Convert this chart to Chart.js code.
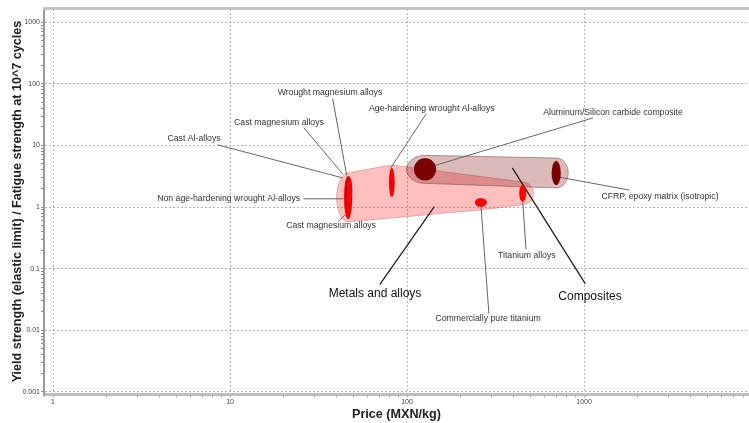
<!DOCTYPE html>
<html>
<head>
<meta charset="utf-8">
<script src="https://cdn.jsdelivr.net/npm/chart.js@4.4.1/dist/chart.umd.min.js"></script>
<style>
  html, body { margin: 0; padding: 0; background: #fff; }
  #wrap { width: 749px; height: 423px; }
</style>
</head>
<body>
<div id="wrap"><canvas id="ashby" width="749" height="423"></canvas></div>
<script>
// Material records: price range (MXN/kg) and yield/fatigue strength ratio range
const materialNames = [
  'Non age-hardening wrought Al-alloys', 'Cast Al-alloys', 'Cast magnesium alloys',
  'Wrought magnesium alloys', 'Age-hardening wrought Al-alloys', 'Titanium alloys',
  'Commercially pure titanium', 'Aluminum/Silicon carbide composite', 'CFRP, epoxy matrix (isotropic)'
];
const materialFamily = [0, 0, 0, 0, 0, 0, 0, 1, 1];
const priceLow  = [44.1, 45.0, 44.8, 45.5, 79.1, 431, 242, 109.5, 657];
const priceHigh = [48.9, 48.2, 48.6, 49.0, 85.0, 470, 282, 145.9, 738];
const ratioLow  = [0.64, 0.90, 0.80, 1.05, 1.45, 1.22, 1.01, 2.71, 2.28];
const ratioHigh = [3.20, 3.00, 2.90, 3.10, 4.30, 2.28, 1.385, 6.18, 5.59];

const familyNames = ['Metals and alloys', 'Composites'];

const xTickLabels = ['1', '10', '100', '1000'];
const yTickLabels = ['0.001', '0.01', '0.1', '1', '10', '100', '1000'];

// Callouts: label centre, leader start and leader end, all in (price, ratio)
const callouts = [
  { text: 'Wrought magnesium alloys', at: [36.7, 71.0], from: [38.0, 56.8], to: [45.6, 3.31] },
  { text: 'Cast magnesium alloys', at: [18.9, 23.1], from: [26.2, 19.2], to: [43.3, 3.44] },
  { text: 'Cast Al-alloys', at: [6.26, 12.9], from: [8.55, 10.2], to: [42.9, 2.99] },
  { text: 'Non age-hardening wrought Al-alloys', at: [9.83, 1.36], from: [26.2, 1.36], to: [43.5, 1.36] },
  { text: 'Cast magnesium alloys', at: [37.2, 0.497], from: [41.6, 0.60], to: [44.5, 0.74] },
  { text: 'Age-hardening wrought Al-alloys', at: [138, 39.1], from: [128, 32.4], to: [80.9, 4.30] },
  { text: 'Aluminum/Silicon carbide composite', at: [1458, 34.0], from: [1119, 27.9], to: [140, 4.63] },
  { text: 'CFRP, epoxy matrix (isotropic)', at: [2685, 1.47], from: [1795, 1.89], to: [731, 3.04] },
  { text: 'Titanium alloys', at: [475, 0.160], from: [470, 0.206], to: [450, 1.30] },
  { text: 'Commercially pure titanium', at: [287, 0.0153], from: [290, 0.0188], to: [262, 1.0] }
];
const familyCallouts = [
  { at: [65.9, 0.0386], from: [70.4, 0.0562], to: [142, 1.0] },
  { at: [1081, 0.0349], from: [1013, 0.0577], to: [395, 4.25] }
];

const familyFill = ['rgba(255,0,0,0.25)', 'rgba(128,0,0,0.27)'];
const familyEdge = ['rgba(170,90,90,0.35)', 'rgba(90,50,50,0.45)'];
const materialFill = ['#ff0000', '#7d0000'];

function isDecade(v) {
  const l = Math.log10(v);
  return Math.abs(l - Math.round(l)) < 1e-6;
}

function logTicks(min, max) {
  const out = [];
  for (let e = Math.floor(Math.log10(min)); e <= Math.ceil(Math.log10(max)); e++) {
    for (let m = 1; m <= 9; m++) {
      const v = m * Math.pow(10, e);
      if (v >= min && v <= max) out.push({ value: v });
    }
  }
  return out;
}

function hull(pts) {
  pts.sort((a, b) => a[0] - b[0] || a[1] - b[1]);
  const cross = (o, a, b) => (a[0] - o[0]) * (b[1] - o[1]) - (a[1] - o[1]) * (b[0] - o[0]);
  const lower = [], upper = [];
  for (const p of pts) {
    while (lower.length >= 2 && cross(lower[lower.length - 2], lower[lower.length - 1], p) <= 0) lower.pop();
    lower.push(p);
  }
  for (let i = pts.length - 1; i >= 0; i--) {
    const p = pts[i];
    while (upper.length >= 2 && cross(upper[upper.length - 2], upper[upper.length - 1], p) <= 0) upper.pop();
    upper.push(p);
  }
  upper.pop(); lower.pop();
  return lower.concat(upper);
}

function ellipseBox(x, y, i) {
  const x1 = x.getPixelForValue(priceLow[i]), x2 = x.getPixelForValue(priceHigh[i]);
  const y1 = y.getPixelForValue(ratioLow[i]), y2 = y.getPixelForValue(ratioHigh[i]);
  return { cx: (x1 + x2) / 2, cy: (y1 + y2) / 2, rx: Math.abs(x2 - x1) / 2, ry: Math.abs(y2 - y1) / 2 };
}

const ashbyPlugin = {
  id: 'ashby',
  beforeDatasetsDraw(chart) {
    const { ctx, chartArea, scales: { x, y } } = chart;
    const px = p => [x.getPixelForValue(p[0]), y.getPixelForValue(p[1])];
    ctx.save();
    ctx.beginPath();
    ctx.rect(chartArea.left, chartArea.top, chartArea.right - chartArea.left, chartArea.bottom - chartArea.top);
    ctx.clip();

    // family envelopes: hull round the padded member ellipses
    familyNames.forEach((name, f) => {
      const pts = [];
      materialNames.forEach((m, i) => {
        if (materialFamily[i] !== f) return;
        const b = ellipseBox(x, y, i);
        for (let k = 0; k < 64; k++) {
          const a = k / 64 * Math.PI * 2;
          pts.push([b.cx + (b.rx + 7.5) * Math.cos(a), b.cy + (b.ry + 3) * Math.sin(a)]);
        }
      });
      const h = hull(pts);
      ctx.beginPath();
      h.forEach((p, k) => k ? ctx.lineTo(p[0], p[1]) : ctx.moveTo(p[0], p[1]));
      ctx.closePath();
      ctx.fillStyle = familyFill[f];
      ctx.fill();
      ctx.strokeStyle = familyEdge[f];
      ctx.lineWidth = 1;
      ctx.stroke();
    });

    // leader lines
    ctx.lineCap = 'round';
    callouts.forEach(c => {
      const a = px(c.from), b = px(c.to);
      ctx.beginPath();
      ctx.moveTo(a[0], a[1]);
      ctx.lineTo(b[0], b[1]);
      ctx.strokeStyle = '#666';
      ctx.lineWidth = 1;
      ctx.stroke();
    });
    familyCallouts.forEach(c => {
      const a = px(c.from), b = px(c.to);
      ctx.beginPath();
      ctx.moveTo(a[0], a[1]);
      ctx.lineTo(b[0], b[1]);
      ctx.strokeStyle = '#222';
      ctx.lineWidth = 1.3;
      ctx.stroke();
    });

    // material ellipses
    materialNames.forEach((m, i) => {
      const b = ellipseBox(x, y, i);
      ctx.beginPath();
      ctx.ellipse(b.cx, b.cy, b.rx, b.ry, 0, 0, Math.PI * 2);
      ctx.fillStyle = materialFill[materialFamily[i]];
      ctx.fill();
      ctx.strokeStyle = 'rgba(90,0,0,0.35)';
      ctx.lineWidth = 0.6;
      ctx.stroke();
    });

    // labels
    ctx.textAlign = 'center';
    ctx.textBaseline = 'middle';
    ctx.font = '8.7px "Liberation Sans", Arial, sans-serif';
    ctx.fillStyle = '#333';
    callouts.forEach(c => {
      const p = px(c.at);
      ctx.fillText(c.text, p[0], p[1]);
    });
    ctx.font = '12px "Liberation Sans", Arial, sans-serif';
    ctx.fillStyle = '#111';
    familyCallouts.forEach((c, f) => {
      const p = px(c.at);
      ctx.fillText(familyNames[f], p[0], p[1]);
    });
    ctx.restore();
  },
  afterDraw(chart) {
    // top edge of the plot frame
    const { ctx, chartArea } = chart;
    ctx.save();
    ctx.fillStyle = '#c4c4c4';
    ctx.fillRect(chartArea.left - 1, chartArea.top - 2, chartArea.right - chartArea.left + 1, 3);
    ctx.restore();
  }
};

const centres = materialNames.map((m, i) => ({
  x: Math.sqrt(priceLow[i] * priceHigh[i]),
  y: Math.sqrt(ratioLow[i] * ratioHigh[i])
}));

const gridColor = c => isDecade(c.tick.value) ? '#b4b4b4' : 'rgba(0,0,0,0)';
const tickFont = { family: '"Liberation Sans", Arial, sans-serif', size: 7 };
const titleFont = { family: '"Liberation Sans", Arial, sans-serif', size: 12.6, weight: 'bold' };

new Chart(document.getElementById('ashby'), {
  type: 'scatter',
  data: {
    datasets: [{ data: centres, pointRadius: 0, showLine: false }]
  },
  options: {
    responsive: false,
    animation: false,
    events: [],
    layout: { padding: { top: 9, left: 0, right: 0, bottom: 0 } },
    plugins: { legend: { display: false }, tooltip: { enabled: false } },
    scales: {
      x: {
        type: 'logarithmic',
        min: 0.889,
        max: 8550,
        afterFit(s) { s.height = 29; },
        afterBuildTicks(s) { s.ticks = logTicks(s.min, s.max); },
        grid: { color: gridColor, lineWidth: 1, tickColor: '#888', tickLength: 3 },
        border: { color: '#bdbdbd', width: 3, dash: [2, 2] },
        ticks: {
          font: tickFont, color: '#444', padding: 1, maxRotation: 0, autoSkip: false,
          callback: v => isDecade(v) ? xTickLabels[Math.round(Math.log10(v))] : ''
        },
        title: { display: true, text: 'Price (MXN/kg)', font: titleFont, color: '#222', padding: { top: 0, bottom: 1 } }
      },
      y: {
        type: 'logarithmic',
        min: 0.00092,
        max: 1644,
        afterFit(s) { s.width = 44; },
        afterBuildTicks(s) { s.ticks = logTicks(s.min, s.max); },
        grid: { color: gridColor, lineWidth: 1, tickColor: '#888', tickLength: 3 },
        border: { color: '#9a9a9a', width: 2, dash: [2, 2] },
        ticks: {
          font: tickFont, color: '#444', padding: 1, autoSkip: false,
          callback: v => isDecade(v) ? yTickLabels[Math.round(Math.log10(v)) + 3] : ''
        },
        title: {
          display: true,
          text: 'Yield strength (elastic limit) / Fatigue strength at 10^7 cycles',
          font: titleFont, color: '#222', padding: { top: 10, bottom: 0 }
        }
      }
    }
  },
  plugins: [ashbyPlugin]
});
</script>
</body>
</html>
